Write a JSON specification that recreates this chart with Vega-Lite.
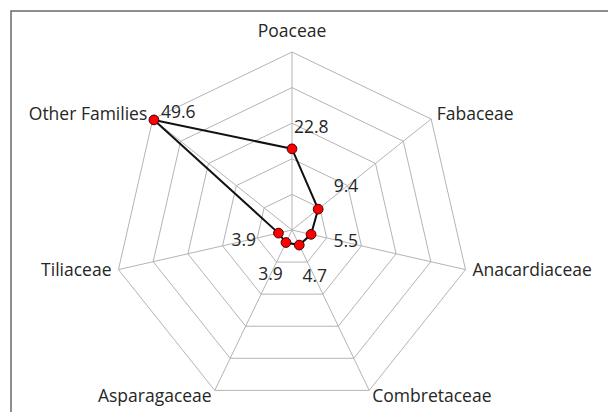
{
  "$schema": "https://vega.github.io/schema/vega-lite/v6.json",
  "width": 600,
  "height": 410,
  "autosize": {"type": "none"},
  "padding": {"left": 11, "top": 11, "right": 0, "bottom": 0},
  "background": "white",
  "config": {"view": {"stroke": "#6a6a6a", "strokeWidth": 1.5}, "text": {"font": "Open Sans", "fontSize": 17.5, "color": "#262626"}},
  "datasets": {
    "cats": [
      {"family": "Poaceae", "idx": 0, "value": 22.8},
      {"family": "Fabaceae", "idx": 1, "value": 9.4},
      {"family": "Anacardiaceae", "idx": 2, "value": 5.5},
      {"family": "Combretaceae", "idx": 3, "value": 4.7},
      {"family": "Asparagaceae", "idx": 4, "value": 3.9},
      {"family": "Tiliaceae", "idx": 5, "value": 3.9},
      {"family": "Other Families", "idx": 6, "value": 49.6}
    ],
    "loop": [
      {"idx": 0, "value": 22.8},
      {"idx": 1, "value": 9.4},
      {"idx": 2, "value": 5.5},
      {"idx": 3, "value": 4.7},
      {"idx": 4, "value": 3.9},
      {"idx": 5, "value": 3.9},
      {"idx": 6, "value": 49.6},
      {"idx": 7, "value": 22.8}
    ],
    "grid": [
      {"idx": 0, "rings": [10, 20, 30, 40, 50]},
      {"idx": 1, "rings": [10, 20, 30, 40, 50]},
      {"idx": 2, "rings": [10, 20, 30, 40, 50]},
      {"idx": 3, "rings": [10, 20, 30, 40, 50]},
      {"idx": 4, "rings": [10, 20, 30, 40, 50]},
      {"idx": 5, "rings": [10, 20, 30, 40, 50]},
      {"idx": 6, "rings": [10, 20, 30, 40, 50]},
      {"idx": 7, "rings": [10, 20, 30, 40, 50]}
    ]
  },
  "encoding": {
    "x": {"field": "px", "type": "quantitative", "scale": {"domain": [-78.93, 89.61], "nice": false, "zero": false}, "axis": null},
    "y": {"field": "py", "type": "quantitative", "scale": {"domain": [-53.65, 61.52], "nice": false, "zero": false}, "axis": null}
  },
  "layer": [
    {
      "data": {"name": "grid"},
      "transform": [
        {"flatten": ["rings"], "as": ["ring"]},
        {"calculate": "datum.idx * 2 * PI / 7", "as": "a"},
        {"calculate": "datum.ring * sin(datum.a)", "as": "px"},
        {"calculate": "datum.ring * cos(datum.a)", "as": "py"}
      ],
      "mark": {"type": "line", "stroke": "#b4b4b4", "strokeWidth": 1},
      "encoding": {"detail": {"field": "ring"}, "order": {"field": "idx"}}
    },
    {
      "data": {"name": "cats"},
      "transform": [
        {"calculate": "datum.idx * 2 * PI / 7", "as": "a"},
        {"calculate": "50 * sin(datum.a)", "as": "px"},
        {"calculate": "50 * cos(datum.a)", "as": "py"},
        {"calculate": "0", "as": "zero"}
      ],
      "mark": {"type": "rule", "stroke": "#b4b4b4", "strokeWidth": 1},
      "encoding": {"x2": {"field": "zero"}, "y2": {"field": "zero"}}
    },
    {
      "data": {"name": "loop"},
      "transform": [
        {"calculate": "datum.idx * 2 * PI / 7", "as": "a"},
        {"calculate": "datum.value * sin(datum.a)", "as": "px"},
        {"calculate": "datum.value * cos(datum.a)", "as": "py"}
      ],
      "mark": {"type": "line", "stroke": "#111", "strokeWidth": 2},
      "encoding": {"order": {"field": "idx"}}
    },
    {
      "data": {"name": "cats"},
      "transform": [
        {"calculate": "datum.idx * 2 * PI / 7", "as": "a"},
        {"calculate": "datum.value * sin(datum.a)", "as": "px"},
        {"calculate": "datum.value * cos(datum.a)", "as": "py"}
      ],
      "mark": {"type": "point", "filled": true, "fill": "#ff0000", "stroke": "#400000", "strokeWidth": 1, "size": 95, "opacity": 1}
    },
    {
      "data": {"name": "cats"},
      "transform": [
        {"filter": "datum.idx >= 1 && datum.idx <= 3"},
        {"calculate": "datum.idx * 2 * PI / 7", "as": "a"},
        {"calculate": "52 * sin(datum.a)", "as": "px"},
        {"calculate": "52 * cos(datum.a)", "as": "py"}
      ],
      "mark": {"type": "text", "align": "left", "baseline": "middle"},
      "encoding": {"text": {"field": "family"}}
    },
    {
      "data": {"name": "cats"},
      "transform": [
        {"filter": "datum.idx >= 4"},
        {"calculate": "datum.idx * 2 * PI / 7", "as": "a"},
        {"calculate": "52 * sin(datum.a)", "as": "px"},
        {"calculate": "52 * cos(datum.a)", "as": "py"}
      ],
      "mark": {"type": "text", "align": "right", "baseline": "middle"},
      "encoding": {"text": {"field": "family"}}
    },
    {
      "data": {"name": "cats"},
      "transform": [
        {"filter": "datum.idx == 0"},
        {"calculate": "0", "as": "px"},
        {"calculate": "50", "as": "py"}
      ],
      "mark": {"type": "text", "align": "center", "baseline": "middle", "dy": -20},
      "encoding": {"text": {"field": "family"}}
    },
    {
      "data": {"name": "cats"},
      "transform": [
        {"filter": "datum.idx >= 1 && datum.idx <= 5"},
        {"calculate": "datum.idx * 2 * PI / 7", "as": "a"},
        {"calculate": "(datum.value + 10) * sin(datum.a)", "as": "px"},
        {"calculate": "(datum.value + 10) * cos(datum.a)", "as": "py"}
      ],
      "mark": {"type": "text", "align": "center", "baseline": "middle"},
      "encoding": {"text": {"field": "value", "format": ".1f"}}
    },
    {
      "data": {"name": "cats"},
      "transform": [
        {"filter": "datum.idx == 0"},
        {"calculate": "0", "as": "px"},
        {"calculate": "datum.value", "as": "py"}
      ],
      "mark": {"type": "text", "align": "left", "baseline": "middle", "dx": 2, "dy": -21},
      "encoding": {"text": {"field": "value", "format": ".1f"}}
    },
    {
      "data": {"name": "cats"},
      "transform": [
        {"filter": "datum.idx == 6"},
        {"calculate": "datum.idx * 2 * PI / 7", "as": "a"},
        {"calculate": "datum.value * sin(datum.a)", "as": "px"},
        {"calculate": "datum.value * cos(datum.a)", "as": "py"}
      ],
      "mark": {"type": "text", "align": "left", "baseline": "middle", "dx": 7, "dy": -7},
      "encoding": {"text": {"field": "value", "format": ".1f"}}
    }
  ]
}
